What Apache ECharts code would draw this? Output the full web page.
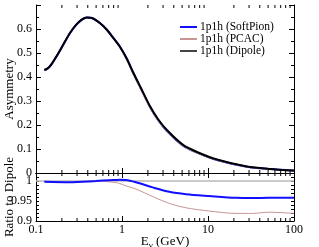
<!DOCTYPE html>
<html>
<head>
<meta charset="utf-8">
<script src="https://cdn.jsdelivr.net/npm/echarts@6/dist/echarts.min.js"></script>
<style>html,body{margin:0;padding:0;background:#fff}#c{width:319px;height:247px}</style>
</head>
<body>
<div id="c"></div>
<script>
// ---- Data ----
const topE         = [0.125, 0.138, 0.153, 0.171, 0.206, 0.248, 0.292, 0.343, 0.39, 0.448, 0.555, 0.669, 0.786, 0.948, 1.14, 1.34, 1.66, 2.11, 2.62, 3.33, 5.13, 7.45, 12.7, 28.3, 52.7, 100];
const dipoleAsym   = [0.429, 0.437, 0.456, 0.483, 0.533, 0.583, 0.617, 0.640, 0.648, 0.646, 0.624, 0.596, 0.564, 0.525, 0.475, 0.421, 0.354, 0.279, 0.225, 0.179, 0.117, 0.0875, 0.056, 0.027, 0.017, 0.010];
const softPionAsym = [0.428, 0.436, 0.455, 0.482, 0.532, 0.582, 0.616, 0.639, 0.648, 0.646, 0.625, 0.597, 0.565, 0.526, 0.476, 0.420, 0.352, 0.276, 0.221, 0.175, 0.114, 0.085, 0.054, 0.026, 0.0163, 0.0096];
const pcacAsym     = [0.428, 0.436, 0.455, 0.482, 0.532, 0.582, 0.616, 0.639, 0.648, 0.645, 0.623, 0.594, 0.561, 0.521, 0.469, 0.413, 0.345, 0.271, 0.217, 0.172, 0.112, 0.083, 0.053, 0.025, 0.0157, 0.0092];

const ratioE        = [0.125, 0.244, 0.498, 0.71, 0.851, 0.93, 1.11, 1.45, 2.28, 3.55, 5.55, 10.3, 21.2, 33, 51, 100];
const softPionRatio = [0.998, 0.997, 1.0, 1.002, 1.0025, 1.003, 1.0025, 0.997, 0.984, 0.973, 0.967, 0.9625, 0.958, 0.9575, 0.958, 0.958];
const pcacRatio     = [0.998, 0.997, 1.0, 0.998, 0.996, 0.994, 0.988, 0.98, 0.961, 0.944, 0.933, 0.925, 0.919, 0.919, 0.922, 0.919];
const dipoleRatioLevel = 1.0;

const seriesNames = ['1p1h (SoftPion)', '1p1h (PCAC)', '1p1h (Dipole)'];
const xMinorTicks = [0.2,0.3,0.4,0.5,0.6,0.7,0.8,0.9, 2,3,4,5,6,7,8,9, 20,30,40,50,60,70,80,90];

// ---- Chart ----
const FONT = 'Liberation Serif';
const BLUE = '#1010ff', PCAC = '#c89494', DIP = '#000000';
const pairs = (xs, ys) => xs.map((x, i) => [x, ys[i]]);

function xAx(grid, pos, withLabels) {
  const a = {
    gridIndex: grid, type: 'log', logBase: 10, min: 0.1, max: 100, position: pos,
    axisLine: { show: true, lineStyle: { color: '#000', width: 1 } },
    axisTick: { show: true, inside: true, length: 5, lineStyle: { color: '#000' } },
    axisLabel: { show: false },
    splitLine: { show: false }
  };
  if (withLabels) {
    a.axisLabel = { show: true, margin: 3, color: '#000', fontFamily: FONT, fontSize: 12,
      formatter: v => (v < 0.5 ? '0.1' : String(Math.round(v))) };
    a.name = '{n|E}{s|ν}{n| (GeV)}';
    a.nameLocation = 'middle';
    a.nameGap = 13;
    a.nameMoveOverlap = false;
    a.nameTextStyle = { rich: {
      n: { fontFamily: FONT, fontSize: 13, color: '#000' },
      s: { fontFamily: FONT, fontSize: 9, color: '#000', padding: [7, 0, 0, 0] } } };
  }
  return a;
}
function yAx(grid, pos, cfg) {
  return Object.assign({
    gridIndex: grid, type: 'value', position: pos,
    axisLine: { show: true, lineStyle: { color: '#000', width: 1 } },
    axisTick: { show: true, inside: true, length: 5, lineStyle: { color: '#000' } },
    minorTick: { show: true, length: 3, lineStyle: { color: '#000' } },
    axisLabel: { show: false },
    splitLine: { show: false }
  }, cfg);
}

function minorTickSeries(xi, yi, yMid) {
  return {
    type: 'custom', xAxisIndex: xi, yAxisIndex: yi, silent: true, clip: false, z: 10,
    data: xMinorTicks.map(v => [v, yMid]),
    renderItem: function (params, api) {
      const x = api.coord([api.value(0), yMid])[0];
      const cs = params.coordSys;
      const st = { stroke: '#000', lineWidth: 1 };
      return { type: 'group', children: [
        { type: 'line', shape: { x1: x, y1: cs.y, x2: x, y2: cs.y + 3 }, style: st },
        { type: 'line', shape: { x1: x, y1: cs.y + cs.height, x2: x, y2: cs.y + cs.height - 3 }, style: st }
      ] };
    }
  };
}

const option = {
  animation: false,
  backgroundColor: '#fff',
  grid: [
    { left: 36, top: 5, width: 258, height: 168, containLabel: false, outerBoundsMode: 'none' },
    { left: 36, top: 173, width: 258, height: 48, containLabel: false, outerBoundsMode: 'none' }
  ],
  xAxis: [ xAx(0, 'bottom', false), xAx(0, 'top', false), xAx(1, 'bottom', true), xAx(1, 'top', false) ],
  yAxis: [
    yAx(0, 'left', { min: 0, max: 0.7, interval: 0.1, minorTick: { show: true, splitNumber: 2, length: 3, lineStyle: { color: '#000' } },
      axisLabel: { show: true, margin: 4, color: '#000', fontFamily: FONT, fontSize: 12,
        formatter: v => (v > 0.65 ? '' : (Math.round(v * 10) === 0 ? '0' : (Math.round(v * 10) / 10).toString())) },
      name: 'Asymmetry', nameLocation: 'middle', nameGap: 20, nameMoveOverlap: false,
      nameTextStyle: { fontFamily: FONT, fontSize: 13, color: '#000' } }),
    yAx(0, 'right', { min: 0, max: 0.7, interval: 0.1, minorTick: { show: true, splitNumber: 2, length: 3, lineStyle: { color: '#000' } } }),
    yAx(1, 'left', { min: 0.9, max: 1.02, interval: 0.01, axisTick: { show: true, inside: true, length: 3, lineStyle: { color: '#000' } },
      minorTick: { show: false },
      axisLabel: { show: true, margin: 4, color: '#000', fontFamily: FONT, fontSize: 12,
        formatter: v => { const r = Math.round(v * 100); return r === 90 ? '0.9' : r === 95 ? '0.95' : r === 100 ? '1' : ''; } },
      name: 'Ratio to Dipole', nameLocation: 'middle', nameGap: 20, nameMoveOverlap: false,
      nameTextStyle: { fontFamily: FONT, fontSize: 13, color: '#000' } }),
    yAx(1, 'right', { min: 0.9, max: 1.02, interval: 0.01, axisTick: { show: true, inside: true, length: 3, lineStyle: { color: '#000' } },
      minorTick: { show: false } })
  ],
  legend: {
    orient: 'vertical', left: 175, top: 16, itemGap: 0, itemWidth: 17, itemHeight: 2, icon: 'rect',
    textStyle: { fontFamily: FONT, fontSize: 11.5, color: '#000', lineHeight: 11, padding: [0, 0, 0, -2] },
    data: [
      { name: seriesNames[0], itemStyle: { color: BLUE } },
      { name: seriesNames[1], itemStyle: { color: PCAC } },
      { name: seriesNames[2], itemStyle: { color: '#444' } }
    ]
  },
  series: [
    { name: seriesNames[0], type: 'line', xAxisIndex: 0, yAxisIndex: 0, data: pairs(topE, softPionAsym), smooth: 0.25,
      showSymbol: false, lineStyle: { color: BLUE, width: 2 }, itemStyle: { color: BLUE }, z: 2 },
    { name: seriesNames[1], type: 'line', xAxisIndex: 0, yAxisIndex: 0, data: pairs(topE, pcacAsym), smooth: 0.25,
      showSymbol: false, lineStyle: { color: PCAC, width: 1 }, itemStyle: { color: PCAC }, z: 3 },
    { name: seriesNames[2], type: 'line', xAxisIndex: 0, yAxisIndex: 0, data: pairs(topE, dipoleAsym), smooth: 0.25,
      showSymbol: false, lineStyle: { color: DIP, width: 2 }, itemStyle: { color: '#444' }, z: 4 },
    { name: 'ratioSoft', type: 'line', xAxisIndex: 2, yAxisIndex: 2, data: pairs(ratioE, softPionRatio), smooth: 0.3,
      showSymbol: false, lineStyle: { color: BLUE, width: 2 }, z: 4,
      markLine: { silent: true, symbol: 'none', label: { show: false }, lineStyle: { color: '#b8b8b8', width: 1.5, type: 'solid' },
        data: [{ yAxis: dipoleRatioLevel }], z: 1 } },
    { name: 'ratioPcac', type: 'line', xAxisIndex: 2, yAxisIndex: 2, data: pairs(ratioE, pcacRatio), smooth: 0.3,
      showSymbol: false, lineStyle: { color: PCAC, width: 1 }, z: 3 },
    minorTickSeries(0, 0, 0.35),
    minorTickSeries(2, 2, 0.95)
  ]
};
const chart = echarts.init(document.getElementById('c'), null, { renderer: 'canvas' });
chart.setOption(option);
</script>
</body>
</html>
